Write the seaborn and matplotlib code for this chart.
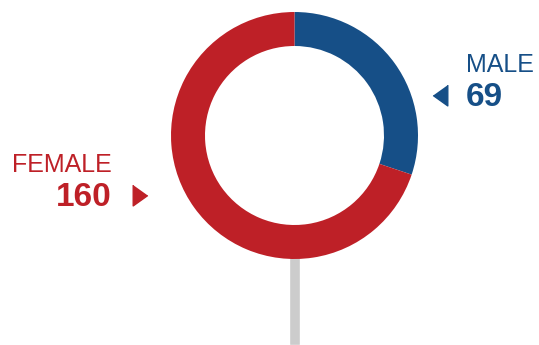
import matplotlib
matplotlib.use("Agg")
import matplotlib.pyplot as plt
import seaborn as sns

# data
genders = ["MALE", "FEMALE"]
counts = [69, 160]
colors = ["#164f87", "#be2027"]

sns.set_style("white")
plt.rcParams['font.family'] = ['Liberation Sans', 'DejaVu Sans']

fig = plt.figure(figsize=(5.39, 3.45), dpi=100)
ax = fig.add_axes([0, 0, 1, 1])
ax.set_xlim(0, 539)
ax.set_ylim(0, 345)
ax.set_aspect("equal")
ax.axis("off")

# donut
cx, cy, r = 294.5, 209.5, 123.5
ax.pie(counts, colors=colors, startangle=90, counterclock=False,
       center=(cx, cy), radius=r, frame=True,
       wedgeprops=dict(width=34, linewidth=0))
ax.set_xlim(0, 539)
ax.set_ylim(0, 345)
ax.axis("off")

# stem under the ring
ax.bar(cx, 95, width=11, bottom=0, color="#cccccc", zorder=0)

# labels
ax.text(466, 273, genders[0], color=colors[0], fontsize=18, ha="left", va="baseline")
ax.text(466, 238.5, str(counts[0]), color=colors[0], fontsize=24, fontweight="bold",
        ha="left", va="baseline")
ax.plot([440], [250], marker=[(-0.7, 0), (0.7, -1), (0.7, 1)], markersize=15,
        color=colors[0], linestyle="none")

ax.text(112, 173, genders[1], color=colors[1], fontsize=18, ha="right", va="baseline")
ax.text(112, 138.5, str(counts[1]), color=colors[1], fontsize=24, fontweight="bold",
        ha="right", va="baseline")
ax.plot([139.5], [150], marker=[(0.7, 0), (-0.7, -1), (-0.7, 1)], markersize=15,
        color=colors[1], linestyle="none")

fig.savefig("out.png", dpi=100)
